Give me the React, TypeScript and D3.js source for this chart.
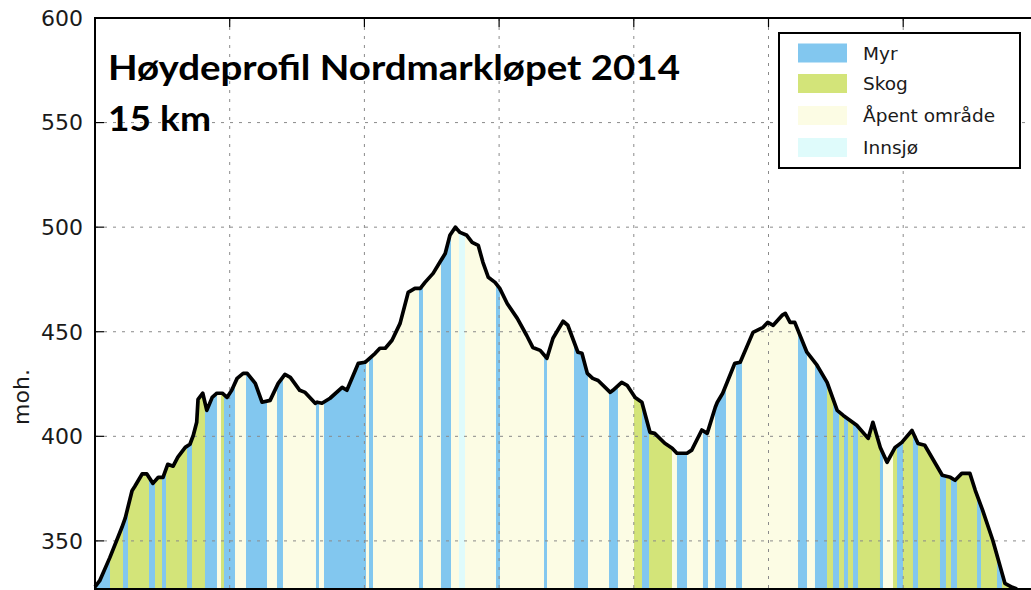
import React, { useRef, useEffect } from "react";
import * as d3 from "d3";

// elevation profile (km along the course, metres above sea level)
const distanceKm = [
  0, 0.07, 0.22, 0.4, 0.45, 0.55, 0.59, 0.7, 0.77, 0.86,
  0.94, 1.01, 1.08, 1.16, 1.23, 1.34, 1.41, 1.46, 1.51, 1.53,
  1.6, 1.66, 1.74, 1.81, 1.89, 1.96, 2.03, 2.11, 2.2, 2.26,
  2.38, 2.48, 2.6, 2.72, 2.82, 2.9, 3.04, 3.12, 3.27, 3.3,
  3.37, 3.49, 3.67, 3.74, 3.91, 4.01, 4.16, 4.23, 4.31, 4.41,
  4.53, 4.65, 4.75, 4.83, 4.9, 5.02, 5.12, 5.2, 5.27, 5.35,
  5.42, 5.52, 5.6, 5.69, 5.76, 5.84, 5.94, 6.01, 6.12, 6.27,
  6.41, 6.5, 6.61, 6.71, 6.8, 6.95, 7.02, 7.17, 7.23, 7.31,
  7.39, 7.47, 7.65, 7.69, 7.82, 7.9, 8.02, 8.12, 8.24, 8.31,
  8.46, 8.57, 8.64, 8.79, 8.86, 9.01, 9.09, 9.21, 9.24, 9.32,
  9.5, 9.58, 9.77, 9.92, 9.99, 10.07, 10.2, 10.25, 10.32, 10.39,
  10.57, 10.72, 10.87, 11.02, 11.11, 11.31, 11.48, 11.55, 11.66, 11.76,
  11.88, 11.98, 12.13, 12.22, 12.32, 12.58, 12.7, 12.77, 12.87, 12.99,
  13.07, 13.18, 13.33, 13.51, 13.62, 13.69
];
const elevation = [
  328, 331, 342, 356.5, 361, 374, 376, 382, 382, 377.5,
  380.4, 380.4, 386.6, 385.7, 390, 394.7, 396.2, 400.5, 406.7, 417.7,
  420.6, 412.4, 418.6, 420.6, 420.6, 418.6, 422, 427.7, 430.1, 430.1,
  425.3, 416.3, 417.2, 425.3, 429.6, 428.2, 422, 421, 415.8, 416.3,
  415.8, 418.2, 423.4, 422, 434.9, 435.4, 439.7, 442.1, 442.1, 445.9,
  454, 468.8, 470.7, 470.7, 473.6, 477.9, 483.2, 487.4, 496.1, 500,
  497.5, 496.1, 492.7, 491.3, 483.2, 476, 473.6, 470.7, 463.5, 456.4,
  448.2, 442.5, 441.1, 437.3, 446.9, 455, 453.1, 440.2, 439.7, 430.1,
  427.7, 426.7, 421, 422, 425.8, 424.4, 418.6, 416.3, 401.9, 401.4,
  396.7, 394.3, 391.9, 391.9, 393.4, 403, 401.4, 413.9, 416.3, 420.6,
  434.9, 435.4, 449.7, 452.1, 454.5, 453.1, 457.8, 458.8, 454.5, 454.5,
  440.2, 434, 425.8, 412.4, 410, 405.3, 399, 406.7, 394.7, 387.6,
  394.7, 397.1, 402.8, 396.6, 395.7, 381.4, 380.4, 379, 382.3, 382.3,
  374.2, 364.6, 350.3, 329.7, 327.8, 327
];

const M = "Myr", S = "Skog", A = "Åpent område", I = "Innsjø";

// terrain type along the course: each stretch starts at coverStart and runs to the next one
const coverStart = [
  0, 0.223, 0.416, 0.49, 0.802, 0.891, 0.995, 1.054, 1.366, 1.44,
  1.633, 1.811, 1.871, 1.915, 2.079, 2.242, 2.554, 2.702, 2.791, 3.281,
  3.326, 3.4, 4.024, 4.068, 4.128, 4.811, 4.87, 5.137, 5.286, 5.405,
  5.494, 5.954, 6.013, 6.667, 6.711, 7.112, 7.32, 7.632, 7.765, 8.003,
  8.122, 8.226, 8.567, 8.641, 8.79, 9.027, 9.102, 9.206, 9.369, 9.518,
  9.607, 10.438, 10.572, 10.69, 10.869, 10.958, 11.047, 11.121, 11.18, 11.255,
  11.329, 11.655, 11.7, 11.849, 11.908, 11.997, 12.145, 12.22, 12.546, 12.635,
  12.71, 12.799, 13.096, 13.155, 13.393, 13.467
];
const coverType = [
  M, S, M, S, M, S, M, S, M, S,
  M, A, S, M, A, M, A, M, A, M,
  A, M, A, M, A, M, A, M, A, I,
  A, M, A, M, A, M, A, M, A, S,
  M, S, A, M, A, M, A, M, A, M,
  A, M, A, M, S, M, S, M, S, M,
  S, M, A, S, M, S, M, S, M, S,
  M, S, M, S, M, S
];

const categories = [M, S, A, I];
const categoryColors = ["#82c7ef", "#d3e479", "#fcfce4", "#dffbfb"];

const yTicks = [350, 400, 450, 500, 550, 600];
const xTicks = [2, 4, 6, 8, 10, 12, 14];

const title1 = "Høydeprofil Nordmarkløpet 2014";
const title2 = "15 km";
const yLabel = "moh.";

const App = () => {
  const node: any = useRef();

  useEffect(() => {
    document.body.style.margin = "0";
    const width = 1031,
      height = 590;
    const left = 95,
      top = 18,
      bottom = 589;

    const svg = d3.select(node.current).attr("width", width).attr("height", height);
    svg.selectAll("*").remove();

    const x = d3.scaleLinear().domain([0, 16]).range([left, left + 16 * 67.35]);
    const y = d3.scaleLinear().domain([327, 600]).range([bottom, top]);
    const color = d3.scaleOrdinal<string, string>().domain(categories).range(categoryColors);

    const points: [number, number][] = distanceKm.map((d, i) => [d, elevation[i]]);
    const endKm = distanceKm[distanceKm.length - 1];

    const area: any = d3
      .area<[number, number]>()
      .x(d => x(d[0]))
      .y0(bottom)
      .y1(d => y(d[1]));
    const line: any = d3
      .line<[number, number]>()
      .x(d => x(d[0]))
      .y(d => y(d[1]));

    svg.append("clipPath").attr("id", "under-profile").append("path").attr("d", area(points));

    // terrain bands, clipped to the area under the profile
    svg
      .append("g")
      .attr("clip-path", "url(#under-profile)")
      .selectAll("rect")
      .data(coverStart)
      .enter()
      .append("rect")
      .attr("x", d => x(d))
      .attr("y", top)
      .attr("width", (d, i) => x(i + 1 < coverStart.length ? coverStart[i + 1] : endKm) - x(d) + 0.4)
      .attr("height", bottom - top)
      .attr("fill", (_, i) => color(coverType[i]));

    // dotted grid
    const grid = svg.append("g").attr("stroke", "#8a8a8a").attr("stroke-width", 1).attr("stroke-dasharray", "3,6");
    grid
      .selectAll("line.h")
      .data(yTicks.filter(t => t < 600))
      .enter()
      .append("line")
      .attr("x1", left)
      .attr("x2", width)
      .attr("y1", d => y(d))
      .attr("y2", d => y(d));
    grid
      .selectAll("line.v")
      .data(xTicks)
      .enter()
      .append("line")
      .attr("x1", d => x(d))
      .attr("x2", d => x(d))
      .attr("y1", top)
      .attr("y2", bottom);

    // profile line
    svg
      .append("path")
      .attr("d", line(points))
      .attr("fill", "none")
      .attr("stroke", "#000")
      .attr("stroke-width", 3.7)
      .attr("stroke-linejoin", "round");

    // spines and inward ticks
    const axes = svg.append("g").attr("stroke", "#000");
    axes.append("line").attr("x1", left).attr("x2", width).attr("y1", top).attr("y2", top).attr("stroke-width", 2);
    axes.append("line").attr("x1", left).attr("x2", width).attr("y1", bottom).attr("y2", bottom).attr("stroke-width", 2);
    axes.append("line").attr("x1", left).attr("x2", left).attr("y1", top - 1).attr("y2", bottom + 1).attr("stroke-width", 2);
    axes
      .selectAll("line.yt")
      .data(yTicks)
      .enter()
      .append("line")
      .attr("x1", left)
      .attr("x2", left + 9)
      .attr("y1", d => y(d))
      .attr("y2", d => y(d))
      .attr("stroke-width", 1.2);
    axes
      .selectAll("line.xt")
      .data(xTicks)
      .enter()
      .append("line")
      .attr("x1", d => x(d))
      .attr("x2", d => x(d))
      .attr("y1", top)
      .attr("y2", top + 9)
      .attr("stroke-width", 1.2);

    svg
      .append("g")
      .selectAll("text")
      .data(yTicks)
      .enter()
      .append("text")
      .attr("x", left - 12)
      .attr("y", d => y(d))
      .attr("dy", "0.36em")
      .attr("text-anchor", "end")
      .attr("font-family", "DejaVu Sans")
      .attr("font-size", 22)
      .attr("fill", "#1a1a1a")
      .text(d => d);

    svg
      .append("text")
      .attr("transform", `translate(29,397) rotate(-90)`)
      .attr("text-anchor", "middle")
      .attr("font-family", "DejaVu Sans")
      .attr("font-size", 22)
      .attr("fill", "#1a1a1a")
      .text(yLabel);

    // title
    svg
      .append("text")
      .attr("x", 108)
      .attr("y", 80)
      .attr("font-family", "Lato")
      .attr("font-weight", "bold")
      .attr("font-size", 35)
      .attr("textLength", 572)
      .attr("lengthAdjust", "spacingAndGlyphs")
      .text(title1);
    svg
      .append("text")
      .attr("x", 108)
      .attr("y", 131)
      .attr("font-family", "Lato")
      .attr("font-weight", "bold")
      .attr("font-size", 35)
      .attr("textLength", 103)
      .attr("lengthAdjust", "spacingAndGlyphs")
      .text(title2);

    // legend
    const legend = svg.append("g");
    legend
      .append("rect")
      .attr("x", 779)
      .attr("y", 33)
      .attr("width", 241)
      .attr("height", 135)
      .attr("fill", "#fff")
      .attr("stroke", "#000")
      .attr("stroke-width", 2);
    const rowY = [53, 83.5, 115.5, 147.5];
    const rows = legend
      .selectAll("g.row")
      .data(categories)
      .enter()
      .append("g")
      .attr("transform", (_, i) => `translate(0,${rowY[i]})`);
    rows
      .append("rect")
      .attr("x", 798)
      .attr("y", -9.5)
      .attr("width", 49)
      .attr("height", 19)
      .attr("fill", d => color(d));
    rows
      .append("text")
      .attr("x", 863)
      .attr("dy", "0.36em")
      .attr("font-family", "DejaVu Sans")
      .attr("font-size", 18.5)
      .attr("fill", "#1a1a1a")
      .text(d => d);
  }, []);

  return (
    <div>
      <svg ref={node} style={{ display: "block" }}></svg>
    </div>
  );
};

export default App;
